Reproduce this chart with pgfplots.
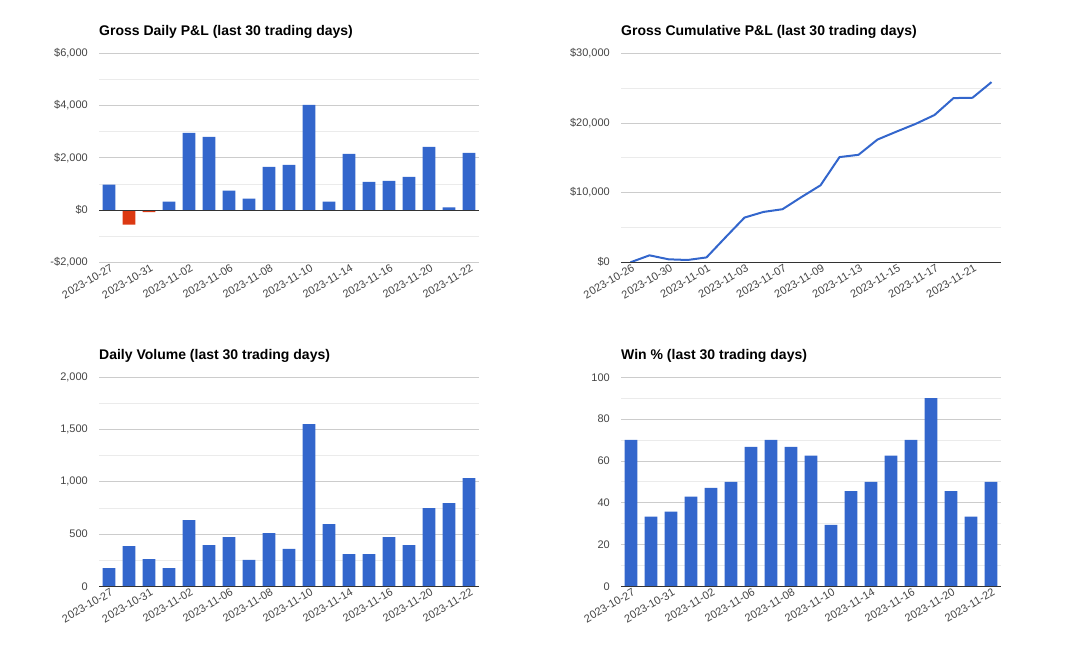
\documentclass[border=0pt]{standalone}
\usepackage{fontspec}
\setmainfont{Liberation Sans}
\usepackage{pgfplots}
\pgfplotsset{compat=1.18}
\definecolor{gblue}{HTML}{3366CC}
\definecolor{gred}{HTML}{DC3912}
\definecolor{gmajor}{HTML}{CCCCCC}
\definecolor{gminor}{HTML}{EBEBEB}
\definecolor{glabel}{HTML}{444444}
\definecolor{gbase}{HTML}{333333}
\pgfplotsset{
  gchart/.style={
    scale only axis, width=380pt, height=209pt, anchor=south west,
    axis line style={draw=none},
    tick style={draw=none},
    scaled y ticks=false,
    ymajorgrids, yminorgrids, minor y tick num=1,
    major grid style={draw=gmajor, line width=0.8pt},
    minor grid style={draw=gminor, line width=0.8pt},
    tick label style={font=\fontsize{11}{13}\selectfont, color=glabel},
    /pgf/number format/assume math mode=true,
    y tick label style={anchor=east, inner sep=0pt, xshift=-11pt},
    x tick label style={rotate=30, anchor=east, inner sep=0pt, yshift=-6pt},
    title style={at={(0,1)}, anchor=base west, yshift=12pt, inner sep=0pt,
      font=\bfseries\fontsize{14}{16}\selectfont, color=black},
    clip=false,
  },
  barlabels/.style={
    xmin=-0.5, xmax=18.5, xtick={0,2,...,18},
    xticklabels={2023-10-27,2023-10-31,2023-11-02,2023-11-06,2023-11-08,2023-11-10,2023-11-14,2023-11-16,2023-11-20,2023-11-22},
  },
  gbar/.style={ybar, bar width=12.7pt, bar shift=0pt, draw=none},
}
\begin{document}
\begin{tikzpicture}
\path[use as bounding box] (0,0) rectangle (1086pt,653pt);
% Panel 1
\begin{axis}[gchart, barlabels, at={(99pt,390.7pt)},
  title={Gross Daily P\&L (last 30 trading days)},
  ymin=-2000, ymax=6000, ytick={-2000,0,2000,4000,6000},
  yticklabels={{-\$2,000},{\$0},{\$2,000},{\$4,000},{\$6,000}}]
\addplot[gbar, fill=gblue] coordinates {(0,970) (3,318) (4,2956) (5,2803) (6,739) (7,433) (8,1656) (9,1733) (10,4026) (11,318) (12,2153) (13,1083) (14,1121) (15,1274) (16,2421) (17,102) (18,2191)};
\addplot[gbar, fill=gred] coordinates {(1,-560) (2,-76)};
\draw[gbase, line width=0.9pt] (axis cs:-0.5,0) -- (axis cs:18.5,0);
\end{axis}
% Panel 2
\begin{axis}[gchart, at={(621pt,390.7pt)},
  title={Gross Cumulative P\&L (last 30 trading days)},
  xmin=-0.5, xmax=19.5, xtick={0,2,...,18},
  xticklabels={2023-10-26,2023-10-30,2023-11-01,2023-11-03,2023-11-07,2023-11-09,2023-11-13,2023-11-15,2023-11-17,2023-11-21},
  ymin=0, ymax=30000, ytick={0,10000,20000,30000},
  yticklabels={{\$0},{\$10,000},{\$20,000},{\$30,000}}]
\addplot[gblue, line width=2pt, no marks, line join=round] coordinates {(0,0) (1,1000) (2,430) (3,330) (4,700) (5,3580) (6,6420) (7,7230) (8,7620) (9,9370) (10,11050) (11,15100) (12,15430) (13,17620) (14,18760) (15,19860) (16,21140) (17,23570) (18,23620) (19,25860)};
\draw[gbase, line width=0.9pt] (axis cs:-0.5,0) -- (axis cs:19.5,0);
\end{axis}
% Panel 3
\begin{axis}[gchart, barlabels, at={(99pt,66.7pt)},
  title={Daily Volume (last 30 trading days)},
  ymin=0, ymax=2000, ytick={0,500,1000,1500,2000},
  yticklabels={{0},{500},{1,000},{1,500},{2,000}}]
\addplot[gbar, fill=gblue] coordinates {(0,175) (1,385) (2,261) (3,175) (4,634) (5,395) (6,471) (7,252) (8,510) (9,357) (10,1551) (11,596) (12,309) (13,309) (14,471) (15,395) (16,748) (17,796) (18,1035)};
\draw[gbase, line width=0.9pt] (axis cs:-0.5,0) -- (axis cs:18.5,0);
\end{axis}
% Panel 4
\begin{axis}[gchart, barlabels, at={(621pt,66.7pt)},
  title={Win \% (last 30 trading days)},
  ymin=0, ymax=100, ytick={0,20,40,60,80,100},
  yticklabels={0,20,40,60,80,100}]
\addplot[gbar, fill=gblue] coordinates {(0,70) (1,33.3) (2,35.7) (3,42.9) (4,47.1) (5,50) (6,66.7) (7,70) (8,66.7) (9,62.5) (10,29.4) (11,45.5) (12,50) (13,62.5) (14,70) (15,90) (16,45.5) (17,33.3) (18,50)};
\draw[gbase, line width=0.9pt] (axis cs:-0.5,0) -- (axis cs:18.5,0);
\end{axis}
\end{tikzpicture}
\end{document}
